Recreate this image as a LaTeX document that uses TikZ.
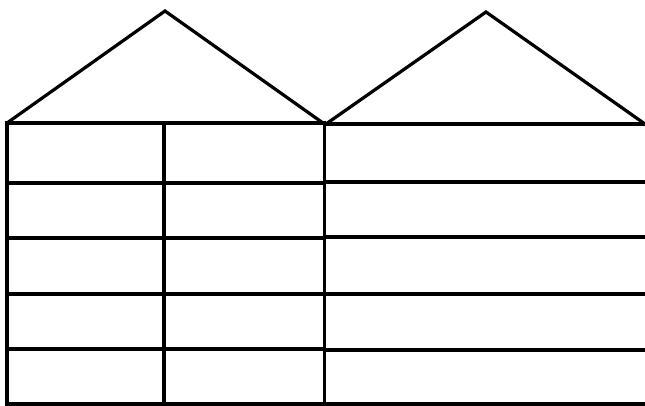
\documentclass[tikz,border=0pt]{standalone}
\begin{document}
\begin{tikzpicture}[x=1pt, y=-1pt, line width=3.2pt]
	% 0. 画布范围 (与参考图同尺寸)
	\useasboundingbox (0,0) rectangle (645,406);
	
	% 1. 两个三角形屋顶
	\draw (7,123) -- (165,11) -- (323,123);
	\draw (326,124) -- (486,12) -- (645,124);
	
	% 2. 左侧两列格子的横线
	\foreach \y in {123,183,238,294,349,404}
		\draw (5,\y) -- (326,\y);
	
	% 右侧单列格子的横线
	\foreach \y in {124,182,237,294,350,404}
		\draw (324,\y) -- (645,\y);
	
	% 3. 竖线
	\foreach \x in {7,164,324.5}
		\draw (\x,123) -- (\x,405);
\end{tikzpicture}
\end{document}
